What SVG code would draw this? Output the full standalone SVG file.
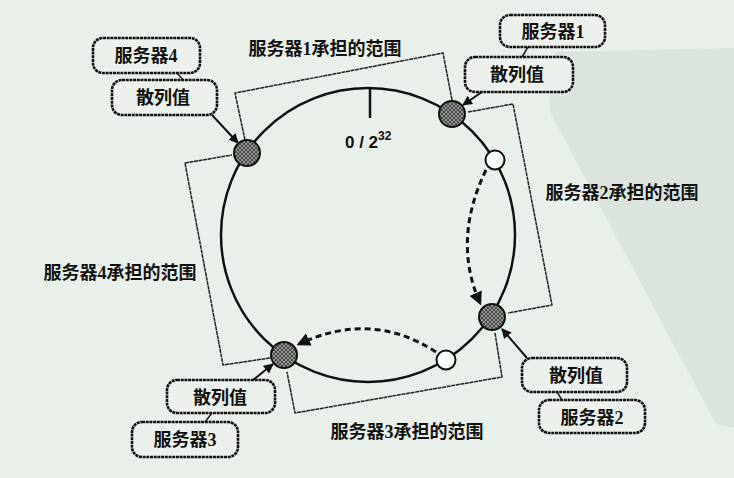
<svg xmlns="http://www.w3.org/2000/svg" width="734" height="478" viewBox="0 0 734 478">
<defs>
<pattern id="hatch" width="4" height="4" patternUnits="userSpaceOnUse">
<rect width="4" height="4" fill="#9a9a9a"/>
<path d="M0,0 L4,4 M4,0 L0,4" stroke="#3a3a3a" stroke-width="0.9"/>
</pattern>
<marker id="ah" viewBox="0 0 10 10" refX="9" refY="5" markerWidth="5" markerHeight="5" orient="auto" markerUnits="strokeWidth">
<path d="M0,0 L10,5 L0,10 Z" fill="#111"/>
</marker>
<marker id="ahd" viewBox="0 0 10 10" refX="8" refY="5" markerWidth="4.5" markerHeight="4.5" orient="auto" markerUnits="strokeWidth">
<path d="M0,0 L10,5 L0,10 Z" fill="#111"/>
</marker>
</defs>
<style>
.bg{fill:#e9efe9}
.wm{fill:#dbe4dd}
.ring{fill:none;stroke:#111;stroke-width:2.5}
.br{fill:none;stroke:#222;stroke-width:1.5;stroke-dasharray:4 0.6}
.box{fill:#ecf1ec;stroke:#111;stroke-width:2.6;stroke-dasharray:3 0.7}
.lk{stroke:#222;stroke-width:1.5}
.arr{fill:none;stroke:#111;stroke-width:2}
.dash{fill:none;stroke:#111;stroke-width:3;stroke-dasharray:6 4}
.gn{fill:url(#hatch);stroke:#111;stroke-width:2}
.wn{fill:#fff;stroke:#111;stroke-width:2}
.t{font-family:"Liberation Serif","Noto Sans CJK SC",serif;font-size:18px;font-weight:bold;fill:#111;text-anchor:middle}
.n{font-family:"Liberation Sans",Arial,sans-serif;font-weight:bold;fill:#111}
</style>
<rect class="bg" width="734" height="478"/>
<polygon class="wm" points="556,52 734,48 734,428 716,424 550,112 548,66"/>

<g id="connectors">
<polyline class="br" points="245,140 235,93 443,53 452,100"/>
<polyline class="br" points="468,112 513,104 552,305 508,313"/>
<polyline class="br" points="495,333 502,377 295,413 287,372"/>
<polyline class="br" points="270,358 223,365 185,163 232,155"/>
<line class="lk" x1="177" y1="73" x2="183" y2="80"/>
<line class="lk" x1="528" y1="47" x2="522" y2="57"/>
<line class="lk" x1="557" y1="392" x2="562" y2="400"/>
<line class="lk" x1="212" y1="413" x2="205" y2="422"/>
<line class="arr" x1="212" y1="115" x2="238" y2="143" marker-end="url(#ah)"/>
<line class="arr" x1="482" y1="92" x2="463" y2="105" marker-end="url(#ah)"/>
<line class="arr" x1="527" y1="358" x2="502" y2="329" marker-end="url(#ah)"/>
<line class="arr" x1="253" y1="380" x2="273" y2="364" marker-end="url(#ah)"/>
<path class="dash" d="M486,170 Q452,240 480,303" marker-end="url(#ahd)"/>
<path class="dash" d="M436,352 Q372,310 299,344" marker-end="url(#ahd)"/>
</g>

<g id="ring">
<circle class="ring" cx="368" cy="235" r="147"/>
<line x1="370" y1="89" x2="370" y2="118" stroke="#111" stroke-width="2.5"/>
<text class="n" x="345" y="148" font-size="17">0 / 2<tspan font-size="12" dy="-8">32</tspan></text>
</g>

<g id="node-server4"><circle class="gn" cx="247" cy="153" r="13"/></g>
<g id="node-server1"><circle class="gn" cx="452" cy="114" r="13"/></g>
<g id="node-key1"><circle class="wn" cx="495" cy="160" r="9.5"/></g>
<g id="node-server2"><circle class="gn" cx="492" cy="317" r="13"/></g>
<g id="node-key2"><circle class="wn" cx="446" cy="360" r="9.5"/></g>
<g id="node-server3"><circle class="gn" cx="284" cy="355" r="13"/></g>

<g id="callout-server4">
<rect class="box" x="93" y="38" width="107" height="35" rx="10"/>
<text class="t" x="146" y="62">服务器4</text>
</g>
<g id="callout-hash4">
<rect class="box" x="112" y="80" width="105" height="35" rx="10"/>
<text class="t" x="163" y="104">散列值</text>
</g>
<g id="callout-server1">
<rect class="box" x="500" y="15" width="105" height="32" rx="10"/>
<text class="t" x="553" y="38">服务器1</text>
</g>
<g id="callout-hash1">
<rect class="box" x="465" y="57" width="108" height="35" rx="10"/>
<text class="t" x="517" y="81">散列值</text>
</g>
<g id="callout-hash2">
<rect class="box" x="522" y="358" width="105" height="34" rx="10"/>
<text class="t" x="576" y="382">散列值</text>
</g>
<g id="callout-server2">
<rect class="box" x="539" y="400" width="106" height="33" rx="10"/>
<text class="t" x="592" y="424">服务器2</text>
</g>
<g id="callout-hash3">
<rect class="box" x="167" y="380" width="108" height="33" rx="10"/>
<text class="t" x="220" y="404">散列值</text>
</g>
<g id="callout-server3">
<rect class="box" x="132" y="422" width="106" height="35" rx="10"/>
<text class="t" x="185" y="446">服务器3</text>
</g>

<g id="range-labels">
<text class="t" x="325" y="55">服务器1承担的范围</text>
<text class="t" x="622" y="199">服务器2承担的范围</text>
<text class="t" x="120" y="279">服务器4承担的范围</text>
<text class="t" x="407" y="438">服务器3承担的范围</text>
</g>
</svg>
